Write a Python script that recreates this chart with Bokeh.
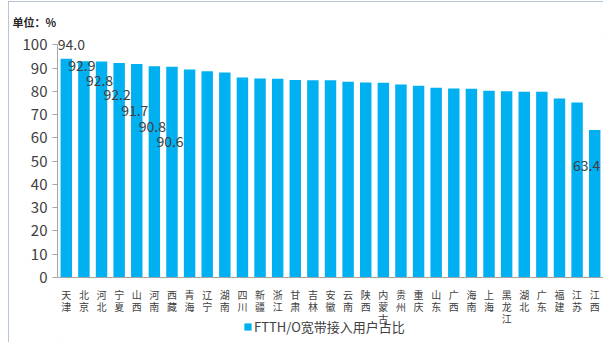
from bokeh.plotting import figure
from bokeh.models import (FactorRange, Range1d, ColumnDataSource, LabelSet,
                          Legend, LegendItem, FixedTicker)
from bokeh.core.properties import value
from bokeh.embed import file_html
from bokeh.resources import INLINE

# ---------------- data ----------------
provinces = ["天津", "北京", "河北", "宁夏", "山西", "河南", "西藏", "青海", "辽宁", "湖南",
             "四川", "新疆", "浙江", "甘肃", "吉林", "安徽", "云南", "陕西", "内蒙古", "贵州",
             "重庆", "山东", "广西", "海南", "上海", "黑龙江", "湖北", "广东", "福建", "江苏", "江西"]
shares = [94.0, 92.9, 92.8, 92.2, 91.7, 90.8, 90.6, 89.4, 88.6, 88.1,
          85.9, 85.5, 85.4, 84.9, 84.8, 84.8, 84.1, 83.8, 83.7, 82.9,
          82.4, 81.5, 81.2, 81.1, 80.3, 80.0, 79.8, 79.8, 76.9, 75.2, 63.4]
labeled_idx = [0, 1, 2, 3, 4, 5, 6, 30]
unit_text = "单位：%"
series_name = "FTTH/O宽带接入用户占比"
y_ticks = [0, 10, 20, 30, 40, 50, 60, 70, 80, 90, 100]

# ---------------- style ----------------
FONT = "Noto Sans CJK SC"
BAR = "#00B0F0"
TXT = "#404040"
label_dy = [14, -4, -19, -32, -46, -60, -75, -36]   # label placement (px)
label_dx = [5, -2, -2, -2, -2, -2, -2, -8]

# vertical (stacked) category labels
factors = ["\n".join(pv) for pv in provinces]

# frame extends below zero so that category labels and legend sit inside it
p = figure(x_range=FactorRange(*factors), y_range=Range1d(-27.93, 104),
           width=595, height=341, output_backend="svg", toolbar_location=None,
           min_border_left=49, min_border_right=0, min_border_top=34, min_border_bottom=0)
p.margin = (1, 0, 0, 8)
p.styles = {"outline": "1px solid #9DB0CC", "outline-offset": "-1px"}
p.outline_line_color = None
p.xgrid.grid_line_color = None
p.ygrid.grid_line_color = None
p.background_fill_color = "white"
p.border_fill_color = "white"

src = ColumnDataSource(dict(prov=factors, share=shares))
r = p.vbar(x="prov", top="share", width=0.65, source=src, fill_color=BAR, line_color=None)

lab_src = ColumnDataSource(dict(
    prov=[factors[i] for i in labeled_idx],
    share=[shares[i] for i in labeled_idx],
    txt=["%.1f" % shares[i] for i in labeled_idx],
    dx=label_dx, dy=label_dy))
p.add_layout(LabelSet(x="prov", y="share", text="txt", source=lab_src, x_offset="dx", y_offset="dy",
                      text_align="center", text_baseline="middle", text_font=value(FONT),
                      text_font_size="14px", text_color=TXT))

# title (unit)
p.title.text = unit_text
p.title.align = "left"
p.title.offset = -45
p.title.standoff = 12
p.title.text_font = FONT
p.title.text_font_size = "11px"
p.title.text_font_style = "bold"
p.title.text_color = "#222222"

# axes
ya = p.yaxis[0]
ya.ticker = FixedTicker(ticks=y_ticks)
ya.bounds = (0, 100)
ya.axis_line_color = "#A6A6A6"
ya.major_tick_line_color = "#A6A6A6"
ya.major_tick_out = 5
ya.major_tick_in = 0
ya.minor_tick_line_color = None
ya.major_label_text_font = FONT
ya.major_label_text_font_size = "15px"
ya.major_label_text_color = TXT
ya.major_label_standoff = 5

xa = p.xaxis[0]
xa.fixed_location = 0
xa.axis_line_color = "#A6A6A6"
xa.major_tick_line_color = None
xa.major_label_orientation = "horizontal"
xa.major_label_text_font = FONT
xa.major_label_text_font_size = "10px"
xa.major_label_text_line_height = 0.8
xa.major_label_text_color = TXT
xa.major_label_standoff = 3

legend = Legend(items=[LegendItem(label=series_name, renderers=[r])], location=(186, 6),
                orientation="horizontal", border_line_color=None, background_fill_alpha=0,
                padding=0, margin=0, glyph_width=9, glyph_height=9, label_standoff=2,
                label_height=14, label_text_font=FONT, label_text_font_size="13px",
                label_text_color=TXT)
p.add_layout(legend)

open("out.html", "w").write(file_html(p, INLINE))
